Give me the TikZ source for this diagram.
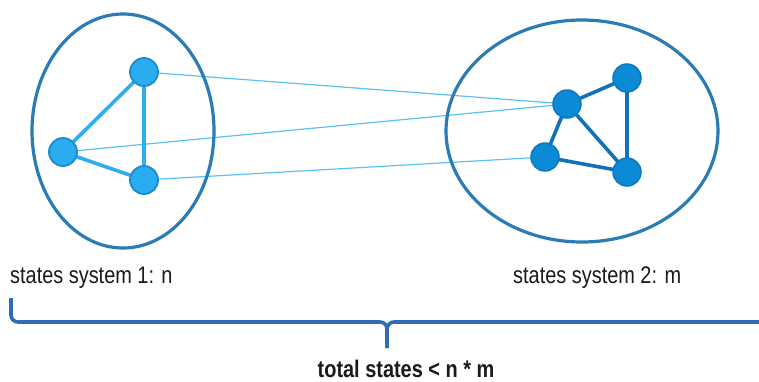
\documentclass[tikz,border=0pt]{standalone}
\usepackage{fontspec}
\setmainfont[FakeStretch=0.83]{Liberation Sans}
\usetikzlibrary{backgrounds}
\definecolor{ringblue}{HTML}{2B7CB5}
\definecolor{lightnode}{HTML}{2AACF0}
\definecolor{lightrim}{HTML}{1C8BCB}
\definecolor{lightedge}{HTML}{2EAEEE}
\definecolor{darknode}{HTML}{0B8AD6}
\definecolor{darkrim}{HTML}{0A79C2}
\definecolor{darkedge}{HTML}{1172BA}
\definecolor{linkblue}{HTML}{5CC2F2}
\definecolor{braceblue}{HTML}{2F6CB3}
\definecolor{inkgray}{HTML}{1A1A1A}
\tikzset{
  ring/.style={draw=ringblue, line width=3.2pt},
  lstate/.style={circle, fill=lightnode, draw=lightrim, line width=1.8pt, minimum size=28pt, inner sep=0pt},
  rstate/.style={circle, fill=darknode, draw=darkrim, line width=1.5pt, minimum size=28pt, inner sep=0pt},
  ledge/.style={draw=lightedge, line width=3.6pt},
  redge/.style={draw=darkedge, line width=3.6pt},
  link/.style={draw=linkblue, line width=1.2pt},
  brace/.style={draw=braceblue, line width=3.6pt, rounded corners=7pt},
  caption/.style={text=inkgray, font=\fontsize{24}{28}\selectfont, inner sep=0pt, anchor=base west},
}
\begin{document}
\begin{tikzpicture}[x=1pt, y=-1pt]
  \useasboundingbox (0,0) rectangle (759,381);

  % the two systems
  \draw[ring] (123,131) ellipse [x radius=91, y radius=117];
  \draw[ring] (582,131) ellipse [x radius=136, y radius=111];

  % states of system 1
  \node[lstate] (a1) at (144,72) {};
  \node[lstate] (a2) at (63,152) {};
  \node[lstate] (a3) at (144,180) {};

  % states of system 2
  \node[rstate] (b1) at (567,104) {};
  \node[rstate] (b2) at (627,78) {};
  \node[rstate] (b3) at (545,157) {};
  \node[rstate] (b4) at (627,172) {};

  \begin{scope}[on background layer]
    \fill[white] (0,0) rectangle (759,381);
    % couplings between the systems
    \draw[link] (a1.center) -- (b1.center);
    \draw[link] (a2.center) -- (b1.center);
    \draw[link] (a3.center) -- (b3.center);
    % transitions inside system 1
    \draw[ledge] (a1.center) -- (a2.center);
    \draw[ledge] (a1.center) -- (a3.center);
    \draw[ledge] (a2.center) -- (a3.center);
    % transitions inside system 2
    \draw[redge] (b1.center) -- (b2.center);
    \draw[redge] (b2.center) -- (b4.center);
    \draw[redge] (b1.center) -- (b4.center);
    \draw[redge] (b1.center) -- (b3.center);
    \draw[redge] (b3.center) -- (b4.center);
  \end{scope}

  % labels
  \node[caption] (l1) at (10,283) {states system 1: n};
  \node[caption] (l2) at (513,283) {states system 2: m};

  % brace spanning both systems
  \coordinate (bl) at (11,298);
  \coordinate (bc) at (387,322);
  \coordinate (bt) at (387,348);
  \coordinate (br) at (762,322);
  \draw[brace] (bl) -- (11,322) -- (bc) -- (bt);
  \draw[brace] (bt) -- (bc) -- (br);

  \node[caption, anchor=base, font=\fontsize{24}{28}\selectfont\bfseries] (tot) at (406,377) {total states < n * m};
\end{tikzpicture}
\end{document}
